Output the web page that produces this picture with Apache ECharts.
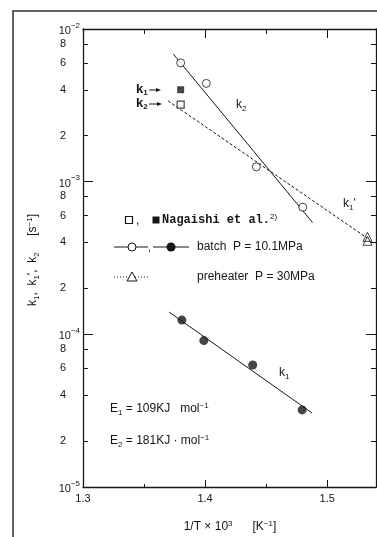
<!DOCTYPE html>
<html><head><meta charset="utf-8">
<script src="https://cdn.jsdelivr.net/npm/echarts@6/dist/echarts.min.js"></script>
<style>html,body{margin:0;padding:0;background:#fff}#c{width:377px;height:537px}</style>
</head><body><div id="c"></div>
<script>
// batch reactor, P = 10.1 MPa : k2 (open circles)
const batchK2X = [1.380, 1.401, 1.442, 1.480];
const batchK2Y = [6.0e-3, 4.4e-3, 1.25e-3, 6.8e-4];
// batch reactor, P = 10.1 MPa : k1 (filled circles)
const batchK1X = [1.381, 1.399, 1.439, 1.4795];
const batchK1Y = [1.24e-4, 9.1e-5, 6.3e-5, 3.2e-5];
// Nagaishi et al.
const nagaishiX = [1.380];
const nagaishiK1 = [4.0e-3];
const nagaishiK2 = [3.2e-3];
// preheater, P = 30 MPa : k1'
const preheaterX = [1.533, 1.533];
const preheaterY = [4.35e-4, 4.1e-4];
// Arrhenius fit lines (end points)
const fitK2X = [1.374, 1.488];
const fitK2Y = [6.85e-3, 5.4e-4];
const fitK1X = [1.3705, 1.4877];
const fitK1Y = [1.4e-4, 3.05e-5];
const fitK1pX = [1.3697, 1.5328];
const fitK1pY = [3.38e-3, 4.27e-4];
// axis ticks
const xMajor = [1.3, 1.4, 1.5];
const xMinor = [1.35, 1.45];
const yDecades = [1e-5, 1e-4, 1e-3, 1e-2];
const yMantissas = [2, 4, 6, 8];

const INK = '#161616';
const FONT = 'Liberation Sans';
const yMinor = [];
yDecades.slice(0, 3).forEach(d => yMantissas.forEach(m => yMinor.push(m * d)));

const pairs = (xs, ys) => xs.map((x, i) => [x, ys[i]]);

function yAx(pos, ticks, len, labels, margin, showLine) {
  return {
    type: 'log', logBase: 10, min: 1e-5, max: 1e-2, position: pos,
    axisLine: { show: showLine, lineStyle: { color: INK, width: 1.3 } },
    axisTick: { show: true, inside: true, length: len, customValues: ticks, lineStyle: { color: INK, width: 1 } },
    axisLabel: labels ? Object.assign({ show: true, margin: margin, color: INK, fontFamily: FONT, fontSize: 11, customValues: ticks }, labels) : { show: false },
    splitLine: { show: false }, minorTick: { show: false }
  };
}
function xAx(pos, ticks, len, labels, showLine) {
  return {
    type: 'value', min: 1.3, max: 1.54, position: pos,
    axisLine: { show: showLine, onZero: false, lineStyle: { color: INK, width: 1.3 } },
    axisTick: { show: true, inside: true, length: len, customValues: ticks, lineStyle: { color: INK, width: 1 } },
    axisLabel: labels ? { show: true, margin: 6, color: INK, fontFamily: FONT, fontSize: 11, customValues: ticks, formatter: v => v.toFixed(1) } : { show: false },
    splitLine: { show: false }
  };
}

const decadeLabel = {
  formatter: v => '{b|10}{s|\u2212' + Math.abs(Math.round(Math.log10(v))) + '}',
  rich: { b: { fontSize: 11, fontFamily: FONT, color: INK, lineHeight: 15, verticalAlign: 'bottom' },
          s: { fontSize: 8, fontFamily: FONT, color: INK, verticalAlign: 'top', lineHeight: 15 } }
};
const mantLabel = {
  formatter: v => String(Math.round(v / Math.pow(10, Math.floor(Math.log10(v) + 1e-9))))
};

const sub = { fontSize: 8, fontFamily: FONT, color: INK, verticalAlign: 'bottom', lineHeight: 15 };
const sup = { fontSize: 8, fontFamily: FONT, color: INK, verticalAlign: 'top', lineHeight: 15 };
const txt = sz => ({ fontSize: sz, fontFamily: FONT, color: INK, lineHeight: 15 });

function rtext(x, y, str, rich, align, extra) {
  return Object.assign({
    type: 'text', x: x, y: y, z: 10,
    style: { text: str, rich: rich, align: align || 'left', verticalAlign: 'middle', fill: INK, font: '10px ' + FONT }
  }, extra || {});
}

const lineStyle = { color: INK, width: 1 };
const bold = { fontSize: 13, fontWeight: 'bold', fontFamily: FONT, color: INK, lineHeight: 15 };
const boldSub = Object.assign({}, sub, { fontWeight: 'bold' });
const graphic = [
  // outer frame
  { type: 'polyline', shape: { points: [[13, 537], [13, 11], [377, 11]] }, style: { stroke: '#333', lineWidth: 1.5, fill: null } },
  // curve labels
  rtext(236, 105, '{k|k}{s|2}', { k: txt(12), s: sub }),
  rtext(343, 204, "{k|k}{s|1}{k|'}", { k: txt(12), s: sub }),
  rtext(279, 373, '{k|k}{s|1}', { k: txt(12), s: sub }),
  // pointers to the Nagaishi markers
  rtext(136, 89, '{k|k}{s|1}', { k: bold, s: boldSub }),
  rtext(136, 103, '{k|k}{s|2}', { k: bold, s: boldSub }),
  { type: 'line', shape: { x1: 149, y1: 90, x2: 158, y2: 90 }, style: { stroke: INK, lineWidth: 1 } },
  { type: 'polygon', shape: { points: [[161, 90], [156, 88], [156, 92]] }, style: { fill: INK } },
  { type: 'line', shape: { x1: 149, y1: 104, x2: 159, y2: 104 }, style: { stroke: INK, lineWidth: 1 } },
  { type: 'polygon', shape: { points: [[162, 104], [157, 102], [157, 106]] }, style: { fill: INK } },
  // legend row 1
  { type: 'rect', shape: { x: 125.5, y: 216.5, width: 7, height: 7 }, style: { fill: '#fff', stroke: INK, lineWidth: 1.2 } },
  rtext(136, 221, '{k|,}', { k: txt(12) }),
  { type: 'rect', shape: { x: 152.5, y: 216.5, width: 7, height: 7 }, style: { fill: INK } },
  rtext(162, 220, '{n|Nagaishi et al.}{p|2)}', { n: { fontSize: 12, fontFamily: 'Liberation Mono', fontWeight: 'bold', color: INK, lineHeight: 15 }, p: sup }),
  // legend row 2
  { type: 'line', shape: { x1: 114, y1: 247, x2: 148, y2: 247 }, style: { stroke: INK, lineWidth: 1 } },
  { type: 'circle', shape: { cx: 132, cy: 247, r: 4 }, style: { fill: '#fff', stroke: INK, lineWidth: 1 } },
  rtext(148, 248, '{k|,}', { k: txt(10) }),
  { type: 'line', shape: { x1: 153, y1: 247, x2: 189, y2: 247 }, style: { stroke: INK, lineWidth: 1 } },
  { type: 'circle', shape: { cx: 171, cy: 247, r: 4.5 }, style: { fill: INK } },
  rtext(197, 247, '{k|batch  P = 10.1MPa}', { k: txt(12) }),
  // legend row 3
  { type: 'line', shape: { x1: 114, y1: 277, x2: 150, y2: 277 }, style: { stroke: INK, lineWidth: 1, lineDash: [1, 2] } },
  { type: 'polygon', shape: { points: [[132, 272], [127, 281], [137, 281]] }, style: { fill: '#fff', stroke: INK, lineWidth: 1 } },
  rtext(197, 277, '{k|preheater  P = 30MPa}', { k: txt(12) }),
  // activation energies
  rtext(110, 409, '{k|E}{s|1}{k| = 109KJ   mol}{p|\u22121}', { k: txt(12), s: sub, p: sup }),
  rtext(110, 441, '{k|E}{s|2}{k| = 181KJ \u00b7 mol}{p|\u22121}', { k: txt(12), s: sub, p: sup }),
  // axis titles
  rtext(230, 527, '{k|1/T \u00d7 10}{p|3}{k|      [K}{p|\u22121}{k|]}', { k: txt(12), p: sup }, 'center'),
  rtext(33, 260, "{k|k}{s|1}{k|,  k}{s|1}{k|',  k}{s|2}{k|     [s}{p|\u22121}{k|]}", { k: txt(12), s: sub, p: sup }, 'center', { rotation: Math.PI / 2 })
];

const chart = echarts.init(document.getElementById('c'), null, { renderer: 'canvas' });
chart.setOption({
  animation: false,
  backgroundColor: '#fff',
  grid: { left: 83, right: 1, top: 29, bottom: 50, containLabel: false },
  xAxis: [
    xAx('bottom', xMajor, 7, true, true),
    xAx('bottom', xMinor, 3, false, false),
    xAx('top', xMajor.slice(1), 9, false, true),
    xAx('top', xMinor, 5, false, false)
  ],
  yAxis: [
    yAx('left', yDecades, 10, decadeLabel, 3, true),
    yAx('left', yMinor, 5, mantLabel, 17, false),
    yAx('right', yDecades, 10, null, 0, true),
    yAx('right', yMinor, 5, null, 0, false)
  ],
  series: [
    { type: 'line', data: pairs(fitK2X, fitK2Y), symbol: 'none', lineStyle: lineStyle, z: 2 },
    { type: 'line', data: pairs(fitK1X, fitK1Y), symbol: 'none', lineStyle: lineStyle, z: 2 },
    { type: 'line', data: pairs(fitK1pX, fitK1pY), symbol: 'none', lineStyle: { color: INK, width: 1, type: [3, 2] }, z: 2 },
    { type: 'scatter', data: pairs(batchK2X, batchK2Y), symbol: 'circle', symbolSize: 8, itemStyle: { color: '#fff', borderColor: INK, borderWidth: 1 }, z: 3 },
    { type: 'scatter', data: pairs(batchK1X, batchK1Y), symbol: 'circle', symbolSize: 9, itemStyle: { color: INK }, z: 3 },
    { type: 'scatter', data: pairs(nagaishiX, nagaishiK1), symbol: 'rect', symbolSize: 7, itemStyle: { color: INK }, z: 3 },
    { type: 'scatter', data: pairs(nagaishiX, nagaishiK2), symbol: 'rect', symbolSize: 7, itemStyle: { color: '#fff', borderColor: INK, borderWidth: 1.2 }, z: 3 },
    { type: 'scatter', data: pairs(preheaterX, preheaterY), symbol: 'triangle', symbolSize: 9, itemStyle: { color: 'rgba(255,255,255,0)', borderColor: INK, borderWidth: 1 }, z: 3 }
  ],
  graphic: graphic
});
</script></body></html>
